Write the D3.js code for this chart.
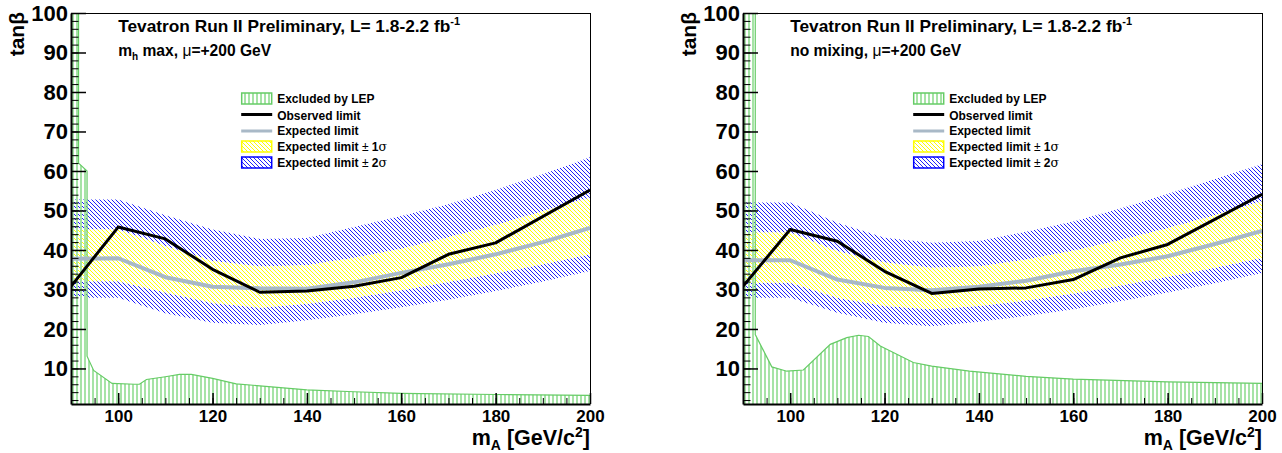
<!DOCTYPE html>
<html>
<head>
<meta charset="utf-8">
<script src="https://cdn.jsdelivr.net/npm/d3@7"></script>
<style>
  html, body { margin: 0; padding: 0; background: #fff; }
  svg { display: block; font-family: "Liberation Sans", Arial, Helvetica, sans-serif; }
</style>
</head>
<body>
<svg id="chart" width="1282" height="453"></svg>
<script>
// ---------------- DATA ----------------
const massPoints = [90, 100, 110, 120, 130, 140, 150, 160, 170, 180, 190, 200];
const obsMass = [90, 100, 110, 120, 130, 140, 150, 160, 170, 180, 200];

// m_h max scenario
const mhmaxObserved = [30.8, 45.8, 42.8, 35.1, 29.3, 29.6, 30.8, 33.0, 38.9, 41.8, 55.2];
const mhmaxExpected = [37.8, 37.9, 33.1, 30.7, 30.3, 30.2, 31.8, 34.2, 36.4, 38.9, 42.0, 45.6];
const mhmaxPlus1 = [45.2, 45.2, 41.0, 37.2, 35.8, 36.1, 38.0, 40.3, 43.2, 46.3, 49.8, 53.2];
const mhmaxMinus1 = [32.1, 32.1, 29.2, 26.6, 25.4, 26.4, 27.9, 29.8, 31.9, 34.1, 36.4, 38.9];
const mhmaxPlus2 = [52.8, 52.8, 48.8, 45.2, 42.8, 43.0, 45.8, 48.6, 51.6, 55.2, 59.2, 63.5];
const mhmaxMinus2 = [27.9, 27.9, 24.0, 21.6, 21.0, 22.2, 23.7, 25.5, 27.4, 29.6, 32.0, 34.7];
const mhmaxLepMass = [90, 91.6, 91.6, 93.4, 93.4, 94.8, 98.7, 103.5, 104.5, 106, 110, 113, 115.5, 120, 125, 130, 140, 150, 160, 180, 200];
const mhmaxLepTanb = [100, 100, 62, 60, 13.1, 9.5, 6.2, 6.0, 6.0, 7.2, 7.9, 8.5, 8.5, 7.5, 6.1, 5.6, 4.6, 4.1, 3.7, 3.4, 3.2];

// no mixing scenario
const nomixObserved = [30.8, 45.2, 42.2, 34.6, 29.0, 30.1, 30.4, 32.5, 38.0, 41.4, 54.1];
const nomixExpected = [37.4, 37.4, 32.5, 30.4, 29.8, 30.7, 32.2, 34.6, 36.3, 38.4, 41.5, 44.8];
const nomixPlus1 = [44.4, 44.4, 39.7, 36.8, 35.5, 35.8, 37.6, 39.8, 42.5, 45.5, 48.8, 52.3];
const nomixMinus1 = [31.7, 31.7, 27.9, 25.8, 25.0, 25.8, 27.2, 29.0, 31.0, 33.2, 35.5, 38.0];
const nomixPlus2 = [52.0, 52.0, 46.9, 43.1, 41.8, 42.3, 44.6, 47.2, 50.5, 54.2, 58.0, 61.7];
const nomixMinus2 = [27.9, 27.9, 24.1, 21.6, 20.7, 21.8, 23.3, 25.0, 27.0, 29.2, 31.6, 34.2];
const nomixLepMass = [90, 92.6, 92.6, 96.1, 99.3, 102.8, 108.5, 112, 114.5, 116.6, 119.1, 126.1, 130, 138, 150, 160, 180, 200];
const nomixLepTanb = [100, 100, 18.6, 10.4, 9.3, 9.6, 16.1, 17.8, 18.4, 18.1, 15.7, 11.5, 10.6, 9.3, 8.0, 7.3, 6.6, 6.2];

// axis ticks
const xTickValues = [100, 120, 140, 160, 180, 200];
const xMinorTicks = [95, 100, 105, 110, 115, 120, 125, 130, 135, 140, 145, 150, 155, 160, 165, 170, 175, 180, 185, 190, 195];
const yTickValues = [10, 20, 30, 40, 50, 60, 70, 80, 90, 100];
const yMinorTicks = d3.range(2, 100, 2);
const xDomain = [90, 200];
const yDomain = [1, 100];

const titleText = "Tevatron Run II Preliminary, L= 1.8-2.2 fb";
const legendLabels = ["Excluded by LEP", "Observed limit", "Expected limit", "Expected limit ", "Expected limit "];

// ---------------- DRAW ----------------
const svg = d3.select("#chart");
svg.append("rect").attr("width", 1282).attr("height", 453).attr("fill", "#fff");

const defs = svg.append("defs");
const lepPat = defs.append("pattern").attr("id", "lepPat").attr("patternUnits", "userSpaceOnUse")
  .attr("width", 4).attr("height", 4);
lepPat.append("rect").attr("x", 0).attr("y", 0).attr("width", 2).attr("height", 4).attr("fill", "#a6e3a6");

function hatch(id, color) {
  const p = defs.append("pattern").attr("id", id).attr("patternUnits", "userSpaceOnUse")
    .attr("width", 4).attr("height", 4);
  p.append("path").attr("d", "M-1,-1 L5,5 M-1,3 L1,5 M3,-1 L5,1")
    .attr("stroke", color).attr("stroke-width", 1).attr("fill", "none");
}
hatch("yelPat", "#ffff00");
hatch("bluPat", "#2020ff");

function drawPanel(cfg) {
  const left = cfg.left, right = cfg.right, top = 13, bottom = 404;
  const x = d3.scaleLinear().domain(xDomain).range([left, right]);
  const y = d3.scaleLinear().domain(yDomain).range([bottom, top]);
  const g = svg.append("g");

  const clipId = "clip" + cfg.id;
  defs.append("clipPath").attr("id", clipId).append("rect")
    .attr("x", left).attr("y", top).attr("width", right - left).attr("height", bottom - top);
  const plot = g.append("g").attr("clip-path", `url(#${clipId})`);

  const band = (lo, hi) => d3.area()
    .x((d, i) => x(massPoints[i]))
    .y0((d, i) => y(lo[i]))
    .y1((d, i) => y(hi[i]))(massPoints);

  plot.append("path").attr("d", band(cfg.minus2, cfg.plus2)).attr("fill", "url(#bluPat)");
  plot.append("path").attr("d", band(cfg.minus1, cfg.plus1)).attr("fill", "#fff");
  plot.append("path").attr("d", band(cfg.minus1, cfg.plus1)).attr("fill", "url(#yelPat)");

  // LEP excluded region
  const lepPts = cfg.lepMass.map((m, i) => [x(m), y(cfg.lepTanb[i])]);
  const poly = lepPts.concat([[x(xDomain[1]), y(yDomain[0])], [x(xDomain[0]), y(yDomain[0])]]);
  plot.append("path").attr("d", "M" + poly.join("L") + "Z").attr("fill", "url(#lepPat)");
  plot.append("path").attr("d", d3.line()(lepPts.slice(1))).attr("fill", "none")
    .attr("stroke", "#66cc66").attr("stroke-width", 1.2);

  // expected and observed lines
  plot.append("path").attr("d", d3.line().x((d, i) => x(massPoints[i])).y(d => y(d))(cfg.expected))
    .attr("fill", "none").attr("stroke", "#a9b9c7").attr("stroke-width", 4).attr("stroke-linejoin", "round");
  plot.append("path").attr("d", d3.line().x((d, i) => x(obsMass[i])).y(d => y(d))(cfg.observed))
    .attr("fill", "none").attr("stroke", "#000").attr("stroke-width", 3).attr("stroke-linejoin", "round");

  // frame top & right
  g.append("line").attr("x1", left).attr("x2", right).attr("y1", top + 0.5).attr("y2", top + 0.5)
    .attr("stroke", "#000").attr("stroke-width", 1);
  g.append("line").attr("x1", right + 0.5).attr("x2", right + 0.5).attr("y1", top).attr("y2", bottom)
    .attr("stroke", "#000").attr("stroke-width", 1);

  // axes
  const yMinorAxis = g.append("g").attr("transform", `translate(${left},0)`)
    .call(d3.axisLeft(y).tickValues(yMinorTicks).tickSizeInner(-7.5).tickSizeOuter(0).tickFormat(""));
  yMinorAxis.select(".domain").remove();
  const xMinorAxis = g.append("g").attr("transform", `translate(0,${bottom})`)
    .call(d3.axisBottom(x).tickValues(xMinorTicks).tickSizeInner(-6).tickSizeOuter(0).tickFormat(""));
  xMinorAxis.select(".domain").remove();

  const yAxis = g.append("g").attr("transform", `translate(${left},0)`)
    .call(d3.axisLeft(y).tickValues(yTickValues).tickSizeInner(-15).tickSizeOuter(0).tickPadding(3).tickFormat(d3.format("d")));
  const xAxis = g.append("g").attr("transform", `translate(0,${bottom})`)
    .call(d3.axisBottom(x).tickValues(xTickValues).tickSizeInner(-11).tickSizeOuter(0).tickPadding(6).tickFormat(d3.format("d")));
  [yAxis, xAxis].forEach(a => {
    a.select(".domain").attr("stroke-width", 2);
    a.selectAll(".tick line").attr("stroke-width", 1.5);
  });
  g.selectAll(".tick line").attr("stroke", "#000");
  yAxis.selectAll("text").attr("font-size", 22).attr("font-weight", "bold").attr("fill", "#000")
    .attr("font-family", "Liberation Sans, Arial, sans-serif");
  xAxis.selectAll("text").attr("font-size", 17).attr("font-weight", "bold").attr("fill", "#000")
    .attr("font-family", "Liberation Sans, Arial, sans-serif");

  // axis titles
  g.append("text").attr("transform", `translate(${left - 47},12) rotate(-90)`)
    .attr("text-anchor", "end").attr("font-size", 21).attr("font-weight", "bold").text("tanβ");
  const xt = g.append("text").attr("x", right).attr("y", 445).attr("text-anchor", "end")
    .attr("font-size", 21.5).attr("font-weight", "bold");
  xt.append("tspan").text("m");
  xt.append("tspan").attr("font-size", 14).attr("dy", 5).text("A");
  xt.append("tspan").attr("dy", -5).text(" [GeV/c");
  xt.append("tspan").attr("font-size", 14).attr("dy", -8).text("2");
  xt.append("tspan").attr("dy", 8).text("]");

  // title
  const tx = x(100);
  const t1 = g.append("text").attr("x", tx).attr("y", 31.5).attr("font-size", 17.3).attr("font-weight", "bold");
  t1.append("tspan").text(titleText);
  t1.append("tspan").attr("font-size", 11).attr("dy", -7).text("-1");
  const t2 = g.append("text").attr("x", tx).attr("y", 56).attr("font-size", 15.6).attr("font-weight", "bold");
  cfg.subtitle(t2);

  // legend
  const lx = left + 170.2, tx2 = lx + 36, bw = 30;
  const rows = [98.5, 114.5, 131, 146.5, 162.5];
  const lg = g.append("g");
  lg.append("rect").attr("x", lx + 0.5).attr("y", rows[0] - 5.5).attr("width", bw).attr("height", 11)
    .attr("fill", "url(#lepPat)").attr("stroke", "#66cc66").attr("stroke-width", 1.5);
  lg.append("line").attr("x1", lx).attr("x2", lx + bw + 1).attr("y1", rows[1]).attr("y2", rows[1])
    .attr("stroke", "#000").attr("stroke-width", 3);
  lg.append("line").attr("x1", lx).attr("x2", lx + bw + 1).attr("y1", rows[2]).attr("y2", rows[2])
    .attr("stroke", "#a9b9c7").attr("stroke-width", 3);
  lg.append("rect").attr("x", lx + 0.5).attr("y", rows[3] - 5.5).attr("width", bw).attr("height", 11)
    .attr("fill", "url(#yelPat)").attr("stroke", "#ffff00").attr("stroke-width", 1.5);
  lg.append("rect").attr("x", lx + 0.5).attr("y", rows[4] - 5.5).attr("width", bw).attr("height", 11)
    .attr("fill", "url(#bluPat)").attr("stroke", "#0000ff").attr("stroke-width", 1.5);
  legendLabels.forEach((lab, i) => {
    const t = lg.append("text").attr("x", tx2).attr("y", rows[i] + (i === 1 ? 5.2 : 4.3))
      .attr("font-size", 12).attr("font-weight", "bold");
    t.append("tspan").text(lab);
    if (i >= 3) {
      t.append("tspan").attr("font-weight", "normal").text("±");
      t.append("tspan").text(i === 3 ? " 1" : " 2");
      t.append("tspan").attr("font-weight", "normal").attr("font-family", "DejaVu Serif, serif").attr("font-size", 12.5).text("σ");
    }
  });
}

drawPanel({
  id: "L", left: 71, right: 590,
  observed: mhmaxObserved, expected: mhmaxExpected,
  plus1: mhmaxPlus1, minus1: mhmaxMinus1, plus2: mhmaxPlus2, minus2: mhmaxMinus2,
  lepMass: mhmaxLepMass, lepTanb: mhmaxLepTanb,
  subtitle: t => {
    t.append("tspan").text("m");
    t.append("tspan").attr("font-size", 10).attr("dy", 4).text("h");
    t.append("tspan").attr("dy", -4).text(" max, ");
    t.append("tspan").attr("font-weight", "normal").text("μ");
    t.append("tspan").text("=+200 GeV");
  }
});
drawPanel({
  id: "R", left: 743, right: 1262,
  observed: nomixObserved, expected: nomixExpected,
  plus1: nomixPlus1, minus1: nomixMinus1, plus2: nomixPlus2, minus2: nomixMinus2,
  lepMass: nomixLepMass, lepTanb: nomixLepTanb,
  subtitle: t => {
    t.append("tspan").text("no mixing, ");
    t.append("tspan").attr("font-weight", "normal").text("μ");
    t.append("tspan").text("=+200 GeV");
  }
});
</script>
</body>
</html>
